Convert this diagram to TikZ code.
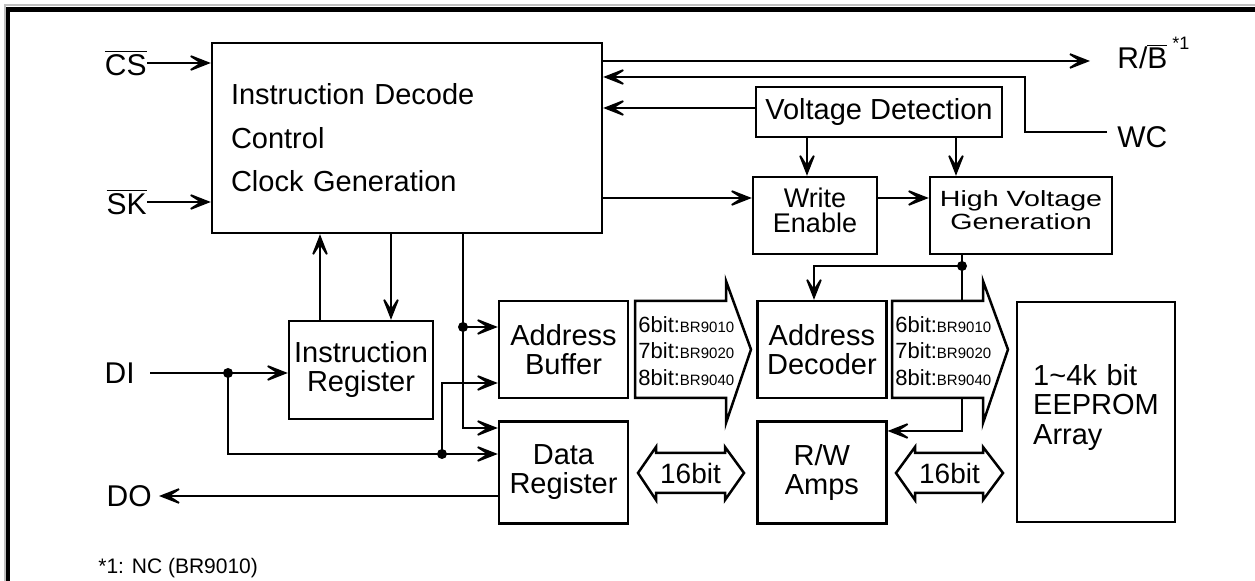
\documentclass[tikz,border=0pt]{standalone}
\usepackage{fontspec}
\setmainfont{Liberation Sans}
\newfontfamily\widesf[FakeStretch=1.3]{Liberation Sans}
\usetikzlibrary{arrows.meta,positioning,calc}

\newcommand{\boxfont}{\fontsize{14.5}{14.5}\selectfont}
\newcommand{\pinfont}{\fontsize{15}{15}\selectfont}
\newcommand{\busfont}{\fontsize{11}{13.25}\selectfont}
\newcommand{\chip}[1]{{\fontsize{7.5}{9}\selectfont #1}}
\newcommand{\barred}[1]{$\overline{\mbox{#1}}$}

\begin{document}
\begin{tikzpicture}[
    x=0.5pt, y=-0.5pt,
    block/.style={
        rectangle,
        draw,
        line width=1.2pt,
        inner sep=0pt,
        align=center,
        font=\boxfont
    },
    pinlabel/.style={inner sep=0pt, font=\pinfont},
    buslabel/.style={inner sep=0pt, align=left, font=\busfont},
    line/.style={draw, line width=1.15pt,
        -{Stealth[length=14pt, width=11pt, inset=8.5pt, line width=0.9pt]}},
    wire/.style={draw, line width=1.15pt},
    bus/.style={draw, line width=1.25pt, fill=white, line join=miter}
]

\useasboundingbox (0,0) rectangle (1255,581);

% Frame
\draw[gray!50, line width=1pt] (1255,5.5) -- (5,5.5) -- (5,581);
\draw[line width=2.25pt] (1255,9.5) -- (8,9.5) -- (8,581);

% Control block
\node [block, minimum width=195pt, minimum height=95pt, align=left, text width=176pt,
    font=\fontsize{14.5}{21.75}\selectfont] (ctrl) at (407,138)
    {Instruction Decode\\Control\\Clock Generation};

% Voltage blocks
\node [block, minimum width=123pt, minimum height=25pt] (vd) at (879,112) {Voltage Detection};
\node [block, minimum width=62pt, minimum height=38.5pt, text depth=4.8pt,
    font=\fontsize{13.5}{12.5}\selectfont] (we) at (815,215.5) {Write\\Enable};
\node [block, minimum width=91pt, minimum height=38.5pt, text depth=5.5pt,
    font=\widesf\fontsize{11}{10}\selectfont] (hvg) at (1021,215.5) {High Voltage\\Generation};

% Registers, decoder and amps
\node [block, minimum width=72pt, minimum height=49pt] (ir) at (361,370) {Instruction\\Register};
\node [block, minimum width=64.5pt, minimum height=48.5pt] (ab) at (563.5,349.5) {Address\\Buffer};
\node [block, minimum width=64.5pt, minimum height=51pt, below=10.5pt of ab] (dr) {Data\\Register};
\node [block, minimum width=64.5pt, minimum height=48.5pt, right=63.5pt of ab] (ad) {Address\\Decoder};
\node [block, minimum width=64.5pt, minimum height=51pt, below=10.5pt of ad] (rw) {R/W\\Amps};

% Memory array
\node [block, minimum width=79pt, minimum height=110pt, align=left, text width=63pt, text depth=37.5pt,
    font=\fontsize{14.5}{14.75}\selectfont, anchor=north west] (arr) at (1016,301)
    {1\textasciitilde4k bit\\EEPROM\\Array};

% Pins
\node [pinlabel, anchor=east] (cs) at (147,63) {\barred{CS}};
\node [pinlabel, anchor=east] (sk) at (147,202) {\barred{SK}};
\node [pinlabel, anchor=east, inner xsep=7.5pt] (di) at (150,373) {DI};
\node [pinlabel, anchor=east, inner xsep=3.5pt] (do) at (159,496) {DO};
\node [pinlabel, anchor=base west] (rb) at (1117,69)
    {R/\barred{B}\hspace{2.5pt}\raisebox{9.5pt}{\fontsize{9}{9}\selectfont *1}};
\node [pinlabel, anchor=base west] (wc) at (1117,148) {WC};

% Note
\node [anchor=base west, inner sep=0pt, font=\fontsize{10.5}{10.5}\selectfont] (note) at (98,574)
    {*1: NC (BR9010)};

% Junctions
\coordinate (rbend) at (1090,61);
\coordinate (wcend) at (1107,132);
\coordinate (hvgdot) at (962,266);
\coordinate (cdot) at (463,327);
\coordinate (didot) at (228,373);
\coordinate (didot2) at (442,454);

% Control inputs and outputs
\draw [line] (cs.east) -- (cs.east -| ctrl.west);
\draw [line] (sk.east) -- (sk.east -| ctrl.west);
\draw [line] (ctrl.east |- rbend) -- (rbend);
\draw [line] (wcend) -| (1025,77) -- (ctrl.east |- 0,77);
\draw [line] (vd.west |- 0,108) -- (ctrl.east |- 0,108);
\draw [line] (ctrl.east |- 0,198) -- (we.west |- 0,198);
\draw [line] (we.east |- 0,198) -- (hvg.west |- 0,198);
\draw [line] (vd.south -| 807,0) -- (we.north -| 807,0);
\draw [line] (vd.south -| 956,0) -- (hvg.north -| 956,0);

% High voltage to decoder and amps
\draw [wire] (hvg.south -| hvgdot) -- (hvgdot);
\draw [line] (hvgdot) -| (ad.north -| 814,0);
\draw [line] (hvgdot) |- (rw.east |- 0,431);

% Instruction register and buffers
\draw [line] (ir.north -| 320,0) -- (ctrl.south -| 320,0);
\draw [line] (ctrl.south -| 391,0) -- (ir.north -| 391,0);
\draw [line] (ctrl.south -| cdot) |- (dr.west |- 0,428);
\draw [line] (cdot) -- (ab.west |- cdot);

% Data in / out
\draw [line] (di.east) -- (ir.west |- di.east);
\draw [line] (didot) |- (dr.west |- didot2);
\draw [line] (didot2) |- (ab.west |- 0,383);
\draw [line] (dr.west |- do.east) -- (do.east);

\fill (hvgdot) circle [radius=2.5pt];
\fill (cdot) circle [radius=2.5pt];
\fill (didot) circle [radius=2.5pt];
\fill (didot2) circle [radius=2.5pt];

% Address buses
\draw [bus] (635,301) -- (726,301) -- (726,281) -- (751,349.5) -- (726,423) -- (726,398) -- (635,398) -- cycle;
\draw [bus] (892,301) -- (983,301) -- (983,281) -- (1008,349.5) -- (983,423) -- (983,398) -- (892,398) -- cycle;
\node [buslabel, anchor=west] (adrbus1) at (638,351)
    {6bit:\chip{BR9010}\\7bit:\chip{BR9020}\\8bit:\chip{BR9040}};
\node [buslabel, anchor=west] (adrbus2) at (895,351)
    {6bit:\chip{BR9010}\\7bit:\chip{BR9020}\\8bit:\chip{BR9040}};

% Data buses
\draw [bus] (638,473) -- (656,447) -- (656,453) -- (725,453) -- (725,447) -- (744,473) -- (725,500) -- (725,493) -- (656,493) -- (656,500) -- cycle;
\draw [bus] (896,473) -- (915,447) -- (915,453) -- (983,453) -- (983,447) -- (1003,473) -- (983,500) -- (983,493) -- (915,493) -- (915,500) -- cycle;
\node [inner sep=0pt, font=\fontsize{14}{14}\selectfont] (databus1) at (690.5,473) {16bit};
\node [inner sep=0pt, font=\fontsize{14}{14}\selectfont] (databus2) at (949.5,473) {16bit};

\end{tikzpicture}
\end{document}
